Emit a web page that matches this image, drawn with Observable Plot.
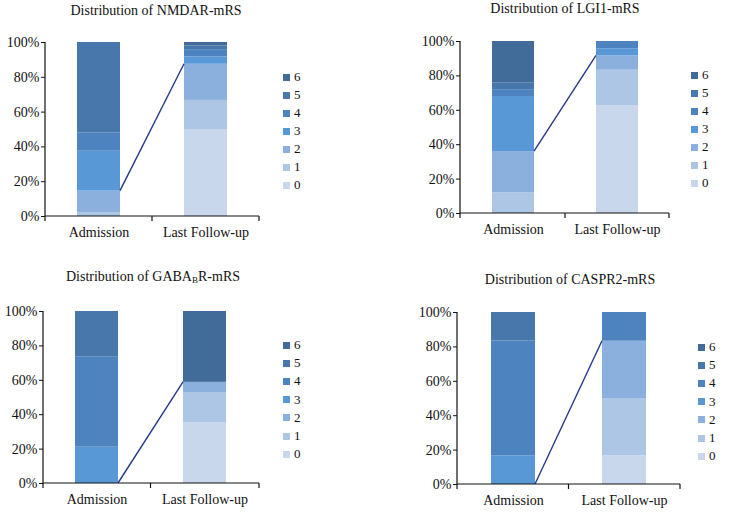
<!DOCTYPE html>
<html><head><meta charset="utf-8">
<script src="https://cdn.jsdelivr.net/npm/d3@7"></script>
<script src="https://cdn.jsdelivr.net/npm/@observablehq/plot@0.6"></script>
<style>
body{margin:0;background:#fff;}
#fig{position:relative;width:729px;height:512px;overflow:hidden;font-family:"Liberation Serif","Times New Roman",serif;color:#111;}
#fig svg, #fig svg text{font-family:"Liberation Serif","Times New Roman",serif !important;}
#fig svg text{font-size:14px !important;}
.panel{position:absolute;}
.title{position:absolute;transform:translate(-50%,-50%);white-space:nowrap;font-size:14px;}
.title sub{font-size:9px;vertical-align:-2px;line-height:0;}
.legend{position:absolute;font-size:13px;}
.row{position:absolute;left:0;display:flex;align-items:center;height:14px;transform:translateY(-50%);white-space:nowrap;}
.sw{width:7px;height:7px;margin-right:4px;}
</style>
</head><body>
<div id="fig"></div>
<script>
// ---- data (percent of patients per mRS score) ----
const stages = ["Admission", "Last Follow-up"];
const mrsLevels = ["0", "1", "2", "3", "4", "5", "6"];
const mrsColors = ["#c8d7ec", "#adc6e6", "#8cb0de", "#5898d7", "#4d84bf", "#4878ab", "#416c99"];

const nmdarAdmission  = [0, 2.1, 12.5, 22.9, 10.4, 52.1, 0];
const nmdarFollowUp   = [50.0, 16.7, 20.8, 4.2, 4.2, 2.1, 2.0];
const lgi1Admission   = [0, 12, 24, 32, 4, 4, 24];
const lgi1FollowUp    = [62.5, 20.8, 8.3, 4.2, 4.2, 0, 0];
const gababAdmission  = [0, 0, 0, 21.1, 52.6, 26.3, 0];
const gababFollowUp   = [35.3, 17.6, 5.9, 0, 0, 0, 41.2];
const caspr2Admission = [0, 0, 0, 16.7, 66.7, 16.6, 0];
const caspr2FollowUp  = [16.7, 33.3, 33.3, 0, 16.7, 0, 0];

const titles = {
  NMDAR: "Distribution of NMDAR-mRS",
  LGI1: "Distribution of LGI1-mRS",
  GABAB: "Distribution of GABA<sub>B</sub>R-mRS",
  CASPR2: "Distribution of CASPR2-mRS"
};

// ---- layout ----
const panels = [
  {key:"NMDAR",  adm:nmdarAdmission,  fu:nmdarFollowUp,  left:0,   top:0,   width:262, height:250, mt:42, mb:34, ml:45, mr:3, tx:156,   ty:11,  lx:283, ly:77,  ls:18},
  {key:"LGI1",   adm:lgi1Admission,   fu:lgi1FollowUp,   left:365, top:0,   width:309, height:250, mt:41, mb:37, ml:95, mr:5, tx:565,   ty:9,   lx:691, ly:75,  ls:18},
  {key:"GABAB",  adm:gababAdmission,  fu:gababFollowUp,  left:0,   top:255, width:262, height:257, mt:56, mb:29, ml:43, mr:3, tx:153,   ty:277, lx:283, ly:345, ls:18.2},
  {key:"CASPR2", adm:caspr2Admission, fu:caspr2FollowUp, left:365, top:255, width:318, height:257, mt:57, mb:28, ml:92, mr:3, tx:570,   ty:280, lx:698, ly:347, ls:18.2}
];

function axesAndLink(goodAdm, goodFu) {
  return (index, scales, values, dims) => {
    const x = scales.x, y = scales.y;
    let bw = (typeof x.bandwidth === "function") ? x.bandwidth()
           : (scales.scales && scales.scales.x ? scales.scales.x.bandwidth : 0);
    const x0 = dims.marginLeft, x1 = dims.width - dims.marginRight;
    const yTop = y(100), yBase = y(0);
    const xa = x(stages[0]), xb = x(stages[1]);
    const xmid = (xa + bw + xb) / 2;
    const g = d3.create("svg:g");
    g.append("line").attr("x1", x0).attr("x2", x0).attr("y1", yTop).attr("y2", yBase)
      .attr("stroke", "#111").attr("stroke-width", 1.2);
    g.append("line").attr("x1", x0).attr("x2", x1).attr("y1", yBase).attr("y2", yBase)
      .attr("stroke", "#111").attr("stroke-width", 1.2);
    for (const tx of [x0, xmid, x1]) {
      g.append("line").attr("x1", tx).attr("x2", tx).attr("y1", yBase).attr("y2", yBase + 5)
        .attr("stroke", "#111").attr("stroke-width", 1.2);
    }
    g.append("line")
      .attr("x1", xa + bw).attr("y1", y(goodAdm))
      .attr("x2", xb).attr("y2", y(goodFu))
      .attr("stroke", "#25398a").attr("stroke-width", 1.4);
    return g.node();
  };
}

const fig = document.getElementById("fig");

for (const p of panels) {
  const data = [];
  [p.adm, p.fu].forEach((vals, si) => {
    vals.forEach((v, i) => { if (v > 0) data.push({stage: stages[si], mrs: mrsLevels[i], pct: v}); });
  });
  const goodAdm = d3.sum(p.adm.slice(0, 3));
  const goodFu = d3.sum(p.fu.slice(0, 3));

  const chart = Plot.plot({
    width: p.width,
    height: p.height,
    marginTop: p.mt,
    marginBottom: p.mb,
    marginLeft: p.ml,
    marginRight: p.mr,
    style: {fontFamily: "Liberation Serif", fontSize: "14px", color: "#111", background: "transparent", overflow: "visible"},
    x: {domain: stages, paddingInner: 0.6, paddingOuter: 0.3, tickSize: 0, tickPadding: 11, label: null},
    y: {domain: [0, 100], ticks: 5, tickFormat: d => d + "%", tickSize: 4, tickPadding: 2, label: null},
    color: {domain: mrsLevels, range: mrsColors},
    marks: [
      Plot.barY(data, {x: "stage", y: "pct", fill: "mrs", order: null}),
      axesAndLink(goodAdm, goodFu)
    ]
  });
  chart.classList.add("panel");
  chart.style.left = p.left + "px";
  chart.style.top = p.top + "px";
  chart.style.position = "absolute";
  fig.appendChild(chart);

  const t = document.createElement("div");
  t.className = "title";
  t.innerHTML = titles[p.key];
  t.style.left = p.tx + "px";
  t.style.top = p.ty + "px";
  fig.appendChild(t);

  const lg = document.createElement("div");
  lg.className = "legend";
  lg.style.left = p.lx + "px";
  lg.style.top = p.ly + "px";
  const order = mrsLevels.slice().reverse();
  order.forEach((lev, k) => {
    const r = document.createElement("div");
    r.className = "row";
    r.style.top = (k * p.ls) + "px";
    const sw = document.createElement("div");
    sw.className = "sw";
    sw.style.background = mrsColors[mrsLevels.indexOf(lev)];
    r.appendChild(sw);
    r.appendChild(document.createTextNode(lev));
    lg.appendChild(r);
  });
  fig.appendChild(lg);
}
</script>
</body></html>
